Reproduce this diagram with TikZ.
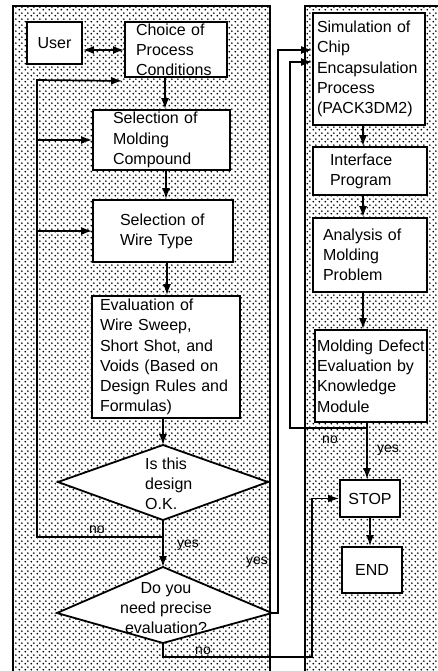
\documentclass[tikz,border=0pt]{standalone}
\usepackage{fontspec}
\setmainfont{Liberation Sans}
\usetikzlibrary{arrows.meta,patterns.meta}
\tikzdeclarepattern{
  name=mydots,
  type=uncolored,
  bounding box={(0pt,0pt) and (6pt,6pt)},
  tile size={(6pt,6pt)},
  code={\fill (1.5pt,1.5pt) circle (1.1pt); \fill (4.5pt,4.5pt) circle (1.1pt);}
}
\newcommand{\boxfont}{\fontsize{16}{20.2}\selectfont}
\newcommand{\lblfont}{\fontsize{14}{16}\selectfont}
\begin{document}
\begin{tikzpicture}[x=1pt,y=-1pt,
  box/.style={draw, line width=1.8pt, fill=white, inner ysep=0pt, font=\boxfont, align=left},
  cbox/.style={draw, line width=1.8pt, fill=white, inner sep=0pt, font=\boxfont, align=center},
  ln/.style={line width=1.7pt},
  arr/.style={line width=1.7pt, -{Latex[length=11pt,width=8pt]}},
  lbl/.style={font=\lblfont, inner sep=0pt},
  txt/.style={font=\boxfont, inner sep=0pt}]
\useasboundingbox (0,0) rectangle (437,671);
% panels
\fill[white] (0,0) rectangle (437,671);
\fill[pattern=mydots] (13,6) rectangle (270,676);
\draw[line width=2.2pt] (13,676) -- (13,6) -- (270,6) -- (270,676);
\fill[pattern=mydots] (305,6) rectangle (440,676);
\draw[line width=2.2pt] (305,676) -- (305,6) -- (440,6);
% left column boxes
\node[cbox, minimum width=55pt, minimum height=42pt] (user) at (54.5,43) {User};
\node[box, minimum width=102pt, minimum height=55pt, inner xsep=11pt, text width=80pt] (choice) at (176,49.5) {Choice of\\Process\\Conditions};
\node[box, minimum width=137pt, minimum height=60pt, inner xsep=20pt, text width=97pt] (molding) at (161.5,140) {Selection of\\Molding\\Compound};
\node[box, minimum width=140pt, minimum height=62pt, inner xsep=27pt, text width=86pt] (wire) at (163,231) {Selection of\\Wire Type};
\node[box, minimum width=148pt, minimum height=122pt, inner xsep=8pt, text width=132pt] (eval) at (166,357) {Evaluation of\\Wire Sweep,\\Short Shot, and\\Voids (Based on\\Design Rules and\\Formulas)};
% diamond 1
\coordinate (d1t) at (163,445);
\coordinate (d1r) at (268,482);
\coordinate (d1b) at (163,520);
\coordinate (d1l) at (58,482);
\filldraw[fill=white, line width=1.8pt, line join=miter] (d1t) -- (d1r) -- (d1b) -- (d1l) -- cycle;
\node[txt, align=left, anchor=west] (d1) at (145,484) {Is this\\design\\O.K.};
% diamond 2
\coordinate (d2t) at (163,567);
\coordinate (d2r) at (272,613);
\coordinate (d2b) at (163,643);
\coordinate (d2l) at (57,613);
\filldraw[fill=white, line width=1.8pt, line join=miter] (d2t) -- (d2r) -- (d2b) -- (d2l) -- cycle;
\node[txt, align=center] (d2) at (166,608) {Do you\\need precise\\evaluation?};
% right column boxes
\node[box, minimum width=112pt, minimum height=112pt, inner xsep=4pt, text width=104pt] (sim) at (369,69) {Simulation of\\Chip\\Encapsulation\\Process\\(PACK3DM2)};
\node[box, minimum width=114pt, minimum height=48pt, inner xsep=17pt, text width=80pt] (iface) at (370,171) {Interface\\Program};
\node[box, minimum width=114pt, minimum height=74pt, inner xsep=10pt, text width=94pt] (analysis) at (370,255) {Analysis of\\Molding\\Problem};
\node[box, minimum width=112pt, minimum height=92pt, inner xsep=2pt, text width=108pt] (defect) at (371,376) {Molding Defect\\Evaluation by\\Knowledge\\Module};
\node[cbox, minimum width=60pt, minimum height=37pt] (stop) at (370,498.5) {STOP};
\node[cbox, minimum width=60pt, minimum height=46pt] (end) at (372,570) {END};
% connectors left
\draw[ln, {Latex[length=11pt,width=8pt]}-{Latex[length=11pt,width=8pt]}] ([yshift=-7pt]user.east) coordinate (t) -- (t -| choice.west);
\draw[arr] ([xshift=-11pt]choice.south) coordinate (t) -- (t |- molding.north);
\draw[arr] ([xshift=4.5pt]molding.south) coordinate (t) -- (t |- wire.north);
\draw[arr] ([xshift=4pt]wire.south) coordinate (t) -- (t |- eval.north);
\draw[arr] (eval.south -| d1t) -- (d1t);
\draw[arr] (d1b) -- (d2t);
\node[lbl] (yes1) at (188,545) {yes};
\coordinate (L1) at (37,537);
\coordinate (L2) at (37,80);
\draw[arr] (d1b) |- (L1) -- (L2) -- ([shift={(-2,3)}]choice.south west);
\node[lbl] (no1) at (97,530) {no};
\draw[arr] (L1 |- molding.west) -- (molding.west);
\draw[arr] (L1 |- wire.west) -- (wire.west);
% diamond 2 exits
\coordinate (R1) at (278,50);
\draw[arr] (d2r) -| (R1) -- (R1 -| sim.west);
\node[lbl] (yes2) at (257,562) {yes};
\coordinate (B1) at (163,657);
\coordinate (B2) at (312,657);
\draw[arr] (d2b) -- (B1) -- (B2) |- (stop.west);
\node[lbl] (no2) at (203,651) {no};
% connectors right
\coordinate (RX) at (363,0);
\draw[arr] (sim.south -| RX) -- (iface.north -| RX);
\draw[arr] (iface.south -| RX) -- (analysis.north -| RX);
\draw[arr] (analysis.south -| RX) -- (defect.north -| RX);
\coordinate (RY) at (367,0);
\draw[arr] (defect.south -| RY) -- (stop.north -| RY);
\node[lbl] (yes3) at (388,450) {yes};
\coordinate (N1) at (367,428);
\coordinate (N2) at (290,428);
\coordinate (N3) at (290,62);
\draw[arr] (N1) -- (N2) -- (N3) -- (N3 -| sim.west);
\node[lbl] (no3) at (330,440) {no};
\draw[arr] (stop.south) -- (stop.south |- end.north);
\end{tikzpicture}
\end{document}
